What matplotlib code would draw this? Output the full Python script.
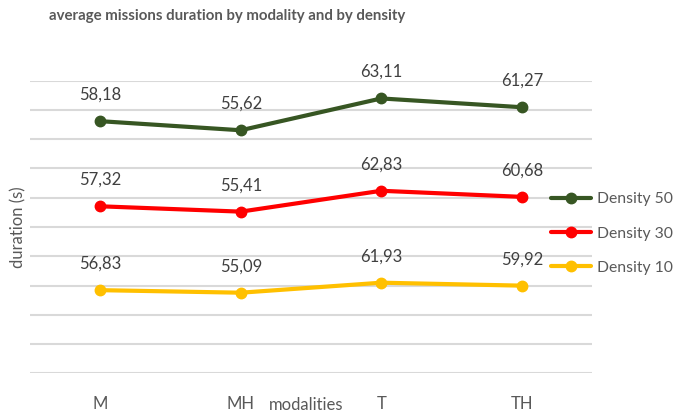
import matplotlib
matplotlib.use("Agg")
import matplotlib.pyplot as plt
import numpy as np

plt.rcParams['font.family'] = ['Lato', 'DejaVu Sans']

modalities = ["M", "MH", "T", "TH"]
density10 = [56.83, 55.09, 61.93, 59.92]
density30 = [57.32, 55.41, 62.83, 60.68]
density50 = [58.18, 55.62, 63.11, 61.27]
series_names = ["Density 10", "Density 30", "Density 50"]
colors = ["#FFC000", "#FF0000", "#375623"]

fig = plt.figure(figsize=(6.77, 4.15), dpi=100)
ax = fig.add_axes([30/677, 1-373.3/415, (592-30)/677, (373.3-80.7)/415])

x = np.arange(len(modalities))
series = [density10, density30, density50]
cum = np.zeros(len(modalities))
handles = []
for vals, name, col in zip(series, series_names, colors):
    cum = cum + np.array(vals)
    h, = ax.plot(x, cum, color=col, lw=3, marker='o', ms=7.5, label=name,
                 solid_capstyle='round', zorder=3)
    handles.append(h)
    for xi, yi, v in zip(x, cum, vals):
        ax.annotate(f"{v:.2f}".replace('.', ','), (xi, yi), xytext=(0, 19),
                    textcoords='offset points', ha='center', va='center',
                    fontsize=12, color='#404040', zorder=4)

ax.set_xlim(-0.5, 3.5)
ax.set_ylim(0, 200)
ax.set_yticks(np.arange(0, 201, 20))
ax.yaxis.grid(True, color='#D9D9D9', lw=1.5)
ax.set_axisbelow(True)
for s in ax.spines.values():
    s.set_visible(False)
ax.tick_params(axis='y', left=False, labelleft=False)
ax.tick_params(axis='x', bottom=False, labelsize=12, labelcolor='#595959', pad=13)
ax.set_xticks(x)
ax.set_xticklabels(modalities)

fig.text(306/677, 1-405/415, "modalities", fontsize=12, color='#595959',
         ha='center', va='center')
fig.text(18/677, 1-227/415, "duration (s)", fontsize=12, color='#595959',
         ha='center', va='center', rotation=90)
fig.text(227/677, 1-16/415, "average missions duration by modality and by density",
         fontsize=10.8, fontweight='bold', color='#595959', ha='center', va='center')

leg = fig.legend(handles[::-1], series_names[::-1], loc='center left',
                 bbox_to_anchor=(545/677, 1-233.5/415), frameon=False,
                 fontsize=11.3, labelcolor='#595959', handlelength=2.5,
                 handletextpad=0.4, labelspacing=1.3, borderaxespad=0)

fig.savefig("out.png", dpi=100)
